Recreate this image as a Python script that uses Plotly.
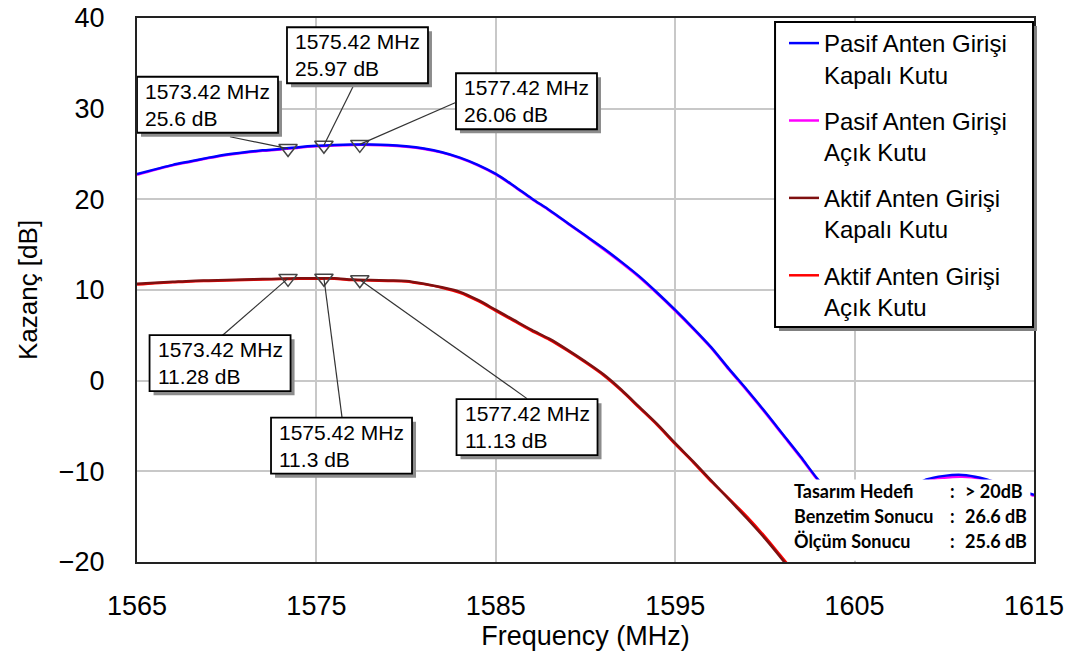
import plotly.graph_objects as go

# ---------------- data ----------------
freq_pasif = list(range(1565, 1616))
pasif_kapali = [22.8, 23.3, 23.8, 24.2, 24.6, 24.95, 25.2, 25.4, 25.55, 25.75,
                25.9, 26.0, 26.05, 26.05, 26.0, 25.85, 25.6, 25.2, 24.6, 23.8,
                22.8, 21.5, 20.1, 18.8, 17.4, 16.0, 14.6, 13.1, 11.5, 9.7,
                7.8, 5.8, 3.7, 1.3, -1.0, -3.4, -5.9, -8.4, -11.0, -13.0,
                -14.5, -15.0, -14.0, -12.0, -10.9, -10.5, -10.4, -10.7, -11.3, -12.0,
                -12.6]
pasif_acik = [22.7, 23.25, 23.75, 24.15, 24.55, 24.9, 25.15, 25.35, 25.5, 25.7,
              25.85, 25.95, 26.0, 26.0, 25.95, 25.8, 25.55, 25.15, 24.55, 23.75,
              22.75, 21.45, 20.05, 18.75, 17.35, 15.95, 14.5, 13.0, 11.4, 9.6,
              7.7, 5.7, 3.6, 1.2, -1.1, -3.5, -6.0, -8.5, -11.1, -13.1,
              -14.6, -15.1, -14.1, -12.1, -11.0, -10.7, -10.6, -10.8, -11.4, -12.1,
              -12.7]

freq_aktif = list(range(1565, 1603))
aktif_kapali = [10.7, 10.8, 10.9, 11.0, 11.05, 11.1, 11.15, 11.2, 11.25, 11.3,
                11.3, 11.3, 11.15, 11.1, 11.05, 11.0, 10.7, 10.3, 9.8, 8.9,
                7.8, 6.7, 5.6, 4.6, 3.4, 2.1, 0.7, -1.0, -2.9, -4.8,
                -6.9, -8.9, -11.0, -13.1, -15.2, -17.4, -19.8, -22.3]
aktif_acik = [10.6, 10.75, 10.85, 10.95, 11.0, 11.05, 11.1, 11.15, 11.2, 11.25,
              11.25, 11.25, 11.1, 11.05, 11.0, 10.95, 10.65, 10.25, 9.7, 8.8,
              7.7, 6.6, 5.5, 4.5, 3.3, 2.0, 0.6, -1.1, -3.0, -4.9,
              -7.0, -9.0, -11.1, -13.0, -15.0, -17.2, -19.6, -22.0]

series_names = ["Pasif Anten Girişi<br>Kapalı Kutu", "Pasif Anten Girişi<br>Açık Kutu",
                "Aktif Anten Girişi<br>Kapalı Kutu", "Aktif Anten Girişi<br>Açık Kutu"]
series_colors = ["#0000ff", "#ff00ff", "#7f1010", "#ff0000"]

marker_freq = [1573.42, 1575.42, 1577.42]
pasif_marker_gain = [25.6, 25.97, 26.06]
aktif_marker_gain = [11.28, 11.3, 11.13]

x_ticks = [1565, 1575, 1585, 1595, 1605, 1615]
y_ticks = [-20, -10, 0, 10, 20, 30, 40]

summary_labels = ["Tasarım Hedefi", "Benzetim Sonucu", "Ölçüm Sonucu"]
summary_values = ["> 20dB", "26.6 dB", "25.6 dB"]

# ---------------- figure ----------------
FONT = "Arial, Liberation Sans, sans-serif"
SFONT = "Lato, Open Sans, sans-serif"
fig = go.Figure()

def line_style(c):
    return dict(color=c, width=2.5, shape="spline", smoothing=0.8)

fig.add_trace(go.Scatter(x=freq_pasif, y=pasif_acik, mode="lines", name=series_names[1],
                         line=line_style(series_colors[1]), legendrank=2, legendgroup="g2"))
fig.add_trace(go.Scatter(x=freq_pasif, y=pasif_kapali, mode="lines", name=series_names[0],
                         line=line_style(series_colors[0]), legendrank=1, legendgroup="g1"))
fig.add_trace(go.Scatter(x=freq_aktif, y=aktif_acik, mode="lines", name=series_names[3],
                         line=line_style(series_colors[3]), legendrank=4, legendgroup="g4"))
fig.add_trace(go.Scatter(x=freq_aktif, y=aktif_kapali, mode="lines", name=series_names[2],
                         line=line_style(series_colors[2]), legendrank=3, legendgroup="g3"))

# marker label boxes: center x, center y, line-start x, line-start y (layout positions)
pasif_boxes = [(1568.93, 30.43, 1570.18, 26.9), (1577.29, 35.89, 1577.15, 32.86),
               (1586.71, 30.82, 1582.73, 30.65)]
aktif_boxes = [(1569.63, 1.93, 1569.74, 4.96), (1576.40, -7.17, 1576.43, -4.08),
               (1586.74, -5.13, 1586.74, -1.98)]
BW, BH = 141, 56  # box size in px

annotations = []
line_shapes, box_shapes = [], []
for gains, boxes in ((pasif_marker_gain, pasif_boxes), (aktif_marker_gain, aktif_boxes)):
    for f, g, (bx, by, lx, ly) in zip(marker_freq, gains, boxes):
        line_shapes.append(dict(type="line", xref="x", yref="y", x0=lx, y0=ly, x1=f, y1=g,
                                line=dict(color="#333333", width=1.2), layer="above"))
        box_shapes.append(dict(type="rect", xref="x", yref="y", xsizemode="pixel", ysizemode="pixel",
                               xanchor=bx, yanchor=by, x0=-BW / 2 + 4, x1=BW / 2 + 4,
                               y0=-BH / 2 - 4, y1=BH / 2 - 4,
                               fillcolor="#8c8c8c", line=dict(width=0), layer="above"))
        box_shapes.append(dict(type="rect", xref="x", yref="y", xsizemode="pixel", ysizemode="pixel",
                               xanchor=bx, yanchor=by, x0=-BW / 2, x1=BW / 2,
                               y0=-BH / 2, y1=BH / 2,
                               fillcolor="white", line=dict(color="black", width=1.8), layer="above"))
        annotations.append(dict(x=bx, y=by, xref="x", yref="y", text=f"{f:.2f} MHz<br>{g:g} dB",
                                showarrow=False, align="left", xanchor="center", yanchor="middle",
                                font=dict(family=FONT, size=21, color="black")))
    fig.add_trace(go.Scatter(x=marker_freq, y=gains, mode="markers", showlegend=False,
                             marker=dict(symbol="triangle-down-open", size=16, color="#444444",
                                         line=dict(width=1.5, color="#444444"))))

shapes = line_shapes + box_shapes

# summary box covering lower right
shapes.append(dict(type="rect", xref="x", yref="y", x0=1601.3, x1=1614.8, y0=-19.85, y1=-10.9,
                   fillcolor="white", line=dict(width=0), layer="above"))
sum_y = [-12.13, -14.88, -17.64]
for lab, val, yy in zip(summary_labels, summary_values, sum_y):
    annotations.append(dict(x=1601.5, y=yy, xref="x", yref="y", text=f"<b>{lab}</b>", showarrow=False,
                            xanchor="left", font=dict(family=SFONT, size=18, color="black")))
    annotations.append(dict(x=1610.43, y=yy, xref="x", yref="y", text="<b>:</b>", showarrow=False,
                            xanchor="center", font=dict(family=SFONT, size=18, color="black")))
    annotations.append(dict(x=1611.04, y=yy, xref="x", yref="y", text=f"<b>{val}</b>", showarrow=False,
                            xanchor="left", font=dict(family=SFONT, size=18, color="black")))

# legend frame + shadow (paper coords)
shapes.append(dict(type="rect", xref="paper", yref="paper", x0=0.7157, x1=1.0033, y0=0.4246, y1=0.9853,
                   fillcolor="#808080", line=dict(width=0), layer="above"))
shapes.append(dict(type="rect", xref="paper", yref="paper", x0=0.7113, x1=0.9989, y0=0.432, y1=0.9926,
                   fillcolor="white", line=dict(color="black", width=2), layer="above"))

fig.update_layout(
    width=1078, height=659,
    margin=dict(l=137, r=44, t=18, b=97, autoexpand=False),
    paper_bgcolor="white", plot_bgcolor="white",
    font=dict(family=FONT, color="black"),
    showlegend=True,
    legend=dict(x=0.7213, y=0.9945, xanchor="left", yanchor="top",
                bgcolor="rgba(0,0,0,0)", borderwidth=0,
                font=dict(family=FONT, size=24, color="black"),
                tracegroupgap=12, valign="top"),
    annotations=annotations,
    shapes=shapes,
)
fig.update_xaxes(range=[1565, 1615], tickvals=x_ticks, showgrid=True, gridcolor="#c8c8c8", gridwidth=2,
                 showline=True, linecolor="#222222", linewidth=2, mirror=True, ticks="",
                 tickfont=dict(size=27, family=FONT, color="black"), ticklabelstandoff=19,
                 ticklabeloverflow="allow",
                 title=dict(text="Frequency (MHz)", font=dict(size=27, family=FONT, color="black"), standoff=0),
                 zeroline=False, automargin=False)
fig.update_yaxes(range=[-20, 40], tickvals=y_ticks, showgrid=True, gridcolor="#c8c8c8", gridwidth=2,
                 showline=True, linecolor="#222222", linewidth=2, mirror=True, ticks="",
                 tickfont=dict(size=27, family=FONT, color="black"), ticklabelstandoff=25,
                 ticklabeloverflow="allow",
                 title=dict(text="Kazanç [dB]", font=dict(size=26, family=FONT, color="black"), standoff=14),
                 zeroline=False, automargin=False)

fig.write_html("out.html", config={"displayModeBar": False},
               post_script="document.body.style.margin='0';")
